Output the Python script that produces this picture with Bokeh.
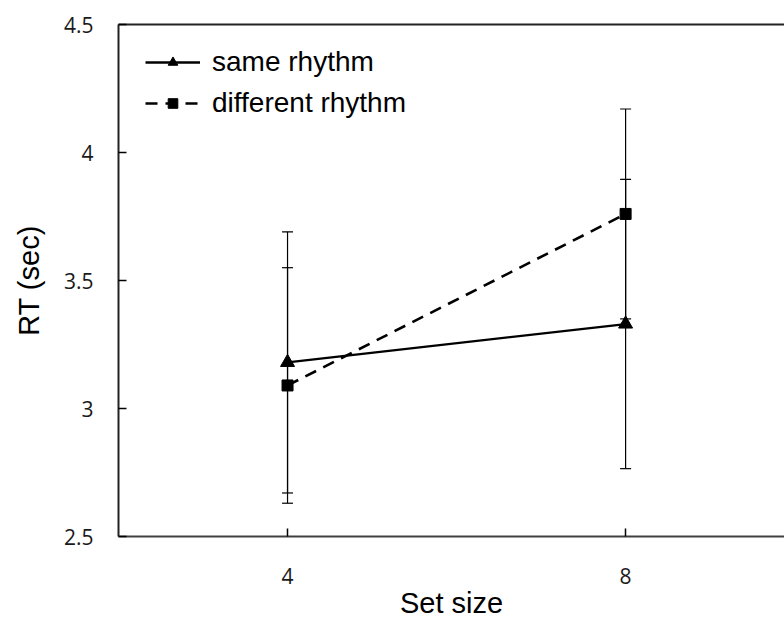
from bokeh.plotting import figure
from bokeh.models import (Range1d, FixedTicker, Whisker, TeeHead, ColumnDataSource,
                          Legend, LegendItem, LinearAxis)
from bokeh.embed import file_html
from bokeh.resources import INLINE

# ---- data ----
set_size = [4, 8]
same_rt = [3.18, 3.33]
same_err = [0.51, 0.565]
diff_rt = [3.09, 3.76]
diff_err = [0.46, 0.41]
x_ticks = [4, 8]
y_ticks = [2.5, 3, 3.5, 4, 4.5]
y_tick_labels = ["2.5", "3", "3.5", "4", "4.5"]

same_src = ColumnDataSource(dict(x=set_size, y=same_rt,
                                 lower=[v - e for v, e in zip(same_rt, same_err)],
                                 upper=[v + e for v, e in zip(same_rt, same_err)]))
diff_src = ColumnDataSource(dict(x=set_size, y=diff_rt,
                                 lower=[v - e for v, e in zip(diff_rt, diff_err)],
                                 upper=[v + e for v, e in zip(diff_rt, diff_err)]))

p = figure(width=784, height=621, x_range=Range1d(2, 9.88), y_range=Range1d(2.5, 4.5),
           output_backend="svg", toolbar_location=None,
           min_border_left=118, min_border_right=0, min_border_top=24, min_border_bottom=85)
p.outline_line_color = None
p.xgrid.visible = False
p.ygrid.visible = False
p.background_fill_color = "white"
p.border_fill_color = "white"

# error bars
for src in (same_src, diff_src):
    w = Whisker(base="x", lower="lower", upper="upper", source=src,
                line_color="black", line_width=1.2,
                upper_head=TeeHead(size=11, line_color="black", line_width=1.2),
                lower_head=TeeHead(size=11, line_color="black", line_width=1.2))
    p.add_layout(w)

l1 = p.line("x", "y", source=same_src, line_color="black", line_width=2.3)
s1 = p.scatter("x", "y", source=same_src, marker="triangle", size=14,
               fill_color="black", line_color="black")
l2 = p.line("x", "y", source=diff_src, line_color="black", line_width=2.6, line_dash="12 8")
s2 = p.scatter("x", "y", source=diff_src, marker="square", size=11,
               fill_color="black", line_color="black")

# axes
xa = p.xaxis[0]
xa.ticker = FixedTicker(ticks=x_ticks)
xa.axis_label = "Set size"
ya = p.yaxis[0]
ya.ticker = FixedTicker(ticks=y_ticks)
ya.major_label_overrides = {t: l for t, l in zip(y_ticks, y_tick_labels)}
ya.axis_label = "RT (sec)"

for ax in (xa, ya):
    ax.major_tick_in = 8
    ax.major_tick_out = 0
    ax.minor_tick_line_color = None
    ax.major_tick_line_color = "black"
    ax.major_tick_line_width = 1.5
    ax.axis_line_color = "#222222"
    ax.axis_line_width = 2
    ax.major_label_text_font = "Open Sans"
    ax.major_label_text_font_size = "21px"
    ax.major_label_text_color = "#1a1a1a"
    ax.axis_label_text_font = "Liberation Sans"
    ax.axis_label_text_font_size = "29px"
    ax.axis_label_text_font_style = "normal"
    ax.axis_label_text_color = "black"
xa.axis_line_color = "#404040"
xa.major_label_standoff = 31
xa.axis_label_standoff = 0
ya.major_label_standoff = 25
ya.axis_label_standoff = 16

top = LinearAxis(ticker=FixedTicker(ticks=[]), major_label_text_font_size="0px",
                 axis_line_color="#222222", axis_line_width=2,
                 major_tick_line_color=None, minor_tick_line_color=None)
p.add_layout(top, "above")

legend = Legend(items=[LegendItem(label="same rhythm", renderers=[l1, s1]),
                       LegendItem(label="different rhythm", renderers=[l2, s2])],
                location=(27, 417), border_line_alpha=0, background_fill_alpha=0,
                label_text_font="Liberation Sans", label_text_font_size="28px",
                label_text_color="black",
                glyph_width=55, glyph_height=24, spacing=9, padding=0, margin=0,
                label_standoff=12)
p.add_layout(legend)

open("out.html", "w").write(file_html(p, INLINE))
